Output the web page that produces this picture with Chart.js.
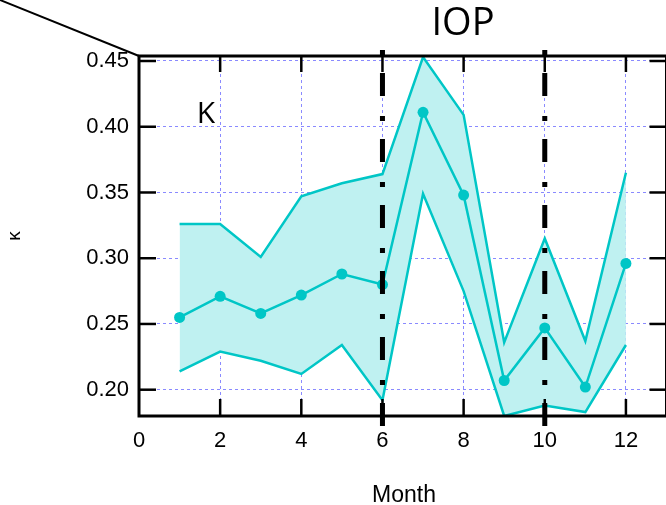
<!DOCTYPE html>
<html>
<head>
<meta charset="utf-8">
<script src="https://cdn.jsdelivr.net/npm/chart.js@4"></script>
<style>
html,body{margin:0;padding:0;overflow:hidden;background:#fff;}
canvas{display:block;}
</style>
</head>
<body>
<canvas id="c" width="672" height="505"></canvas>
<script>
const months = [1,2,3,4,5,6,7,8,9,10,11,12];
const meanK  = [0.255,0.271,0.258,0.272,0.288,0.280,0.411,0.348,0.207,0.247,0.202,0.296];
const upperK = [0.326,0.326,0.301,0.347,0.357,0.364,0.453,0.409,0.236,0.315,0.237,0.365];
const lowerK = [0.214,0.229,0.222,0.212,0.234,0.192,0.349,0.275,0.180,0.188,0.183,0.234];
const xTicks = [0,2,4,6,8,10,12];
const yTicks = [0.20,0.25,0.30,0.35,0.40,0.45];
const markerMonths = [6,10];

const LINE = '#00c6c6';
const FILL = '#bff1f1';
const pts = arr => months.map((m,i)=>({x:m,y:arr[i]}));

const decor = {
  id:'decor',
  afterDatasetsDraw(chart){
    const {ctx, chartArea:a, scales:{x}} = chart;
    ctx.save();
    ctx.strokeStyle='#000'; ctx.lineWidth=5; ctx.lineCap='butt';
    ctx.setLineDash([5,18,23,20]);
    markerMonths.forEach(m=>{
      const px = x.getPixelForValue(m);
      ctx.beginPath(); ctx.moveTo(px, a.top-6); ctx.lineTo(px, a.bottom+11); ctx.stroke();
    });
    ctx.restore();
  },
  afterDraw(chart){
    const {ctx, chartArea:a, scales:{x,y}} = chart;
    ctx.save();
    ctx.setLineDash([]);
    ctx.strokeStyle='#000';
    ctx.lineWidth=2.5;
    const TL=17;
    yTicks.forEach(v=>{
      const py=y.getPixelForValue(v);
      ctx.beginPath(); ctx.moveTo(a.left,py); ctx.lineTo(a.left+TL,py); ctx.stroke();
      ctx.beginPath(); ctx.moveTo(a.right-TL,py); ctx.lineTo(a.right,py); ctx.stroke();
    });
    xTicks.forEach(v=>{
      if(v===0) return;
      const px=x.getPixelForValue(v);
      ctx.beginPath(); ctx.moveTo(px,a.bottom); ctx.lineTo(px,a.bottom-TL); ctx.stroke();
      ctx.beginPath(); ctx.moveTo(px,a.top); ctx.lineTo(px,a.top+TL-1); ctx.stroke();
    });
    ctx.lineWidth=3;
    ctx.strokeRect(a.left,a.top,a.right-a.left,a.bottom-a.top);
    ctx.lineWidth=2;
    ctx.beginPath(); ctx.moveTo(0,0); ctx.lineTo(a.left,a.top); ctx.stroke();
    ctx.fillStyle='#000';
    ctx.textBaseline='alphabetic';
    ctx.textAlign='center';
    ctx.font='38px "Open Sans"';
    ctx.fillText('IOP',463,35);
    ctx.font='30px "Open Sans"';
    ctx.fillText('K',206,123);
    ctx.font='23px "Liberation Sans"';
    ctx.fillText('Month',404,502);
    ctx.save();
    ctx.translate(15,236);
    ctx.rotate(-Math.PI/2);
    ctx.textBaseline='middle';
    ctx.font='19px "Liberation Sans"';
    ctx.fillText('κ',0,0);
    ctx.restore();
    ctx.restore();
  }
};

new Chart(document.getElementById('c'),{
  type:'line',
  data:{datasets:[
    {label:'upper',data:pts(upperK),order:3,borderColor:LINE,backgroundColor:FILL,borderWidth:2.5,pointRadius:0,fill:'+1',tension:0},
    {label:'lower',data:pts(lowerK),order:2,borderColor:LINE,backgroundColor:FILL,borderWidth:2.5,pointRadius:0,fill:false,tension:0},
    {label:'mean',data:pts(meanK),order:1,borderColor:LINE,backgroundColor:LINE,borderWidth:2.5,pointRadius:5.5,pointBackgroundColor:LINE,pointBorderWidth:0,fill:false,tension:0}
  ]},
  options:{
    responsive:false,animation:false,
    layout:{padding:{left:0,top:56,right:3,bottom:0}},
    plugins:{legend:{display:false},tooltip:{enabled:false}},
    scales:{
      x:{type:'linear',min:0,max:13,
        afterBuildTicks:s=>{s.ticks=xTicks.map(v=>({value:v}));},
        afterFit:s=>{s.height=89;},
        grid:{color:'#8a8aff',lineWidth:1,drawTicks:false},
        border:{display:false,dash:[3,3]},
        ticks:{font:{family:'Liberation Sans',size:22},color:'#000',padding:12,maxRotation:0,callback:v=>String(v)}
      },
      y:{type:'linear',min:0.18,max:0.4538,
        afterBuildTicks:s=>{s.ticks=yTicks.map(v=>({value:v}));},
        afterFit:s=>{s.width=139;},
        grid:{color:'#8a8aff',lineWidth:1,drawTicks:false},
        border:{display:false,dash:[3,3]},
        ticks:{font:{family:'Liberation Sans',size:22},color:'#000',padding:10,callback:v=>Number(v).toFixed(2)}
      }
    }
  },
  plugins:[decor]
});
</script>
</body>
</html>
